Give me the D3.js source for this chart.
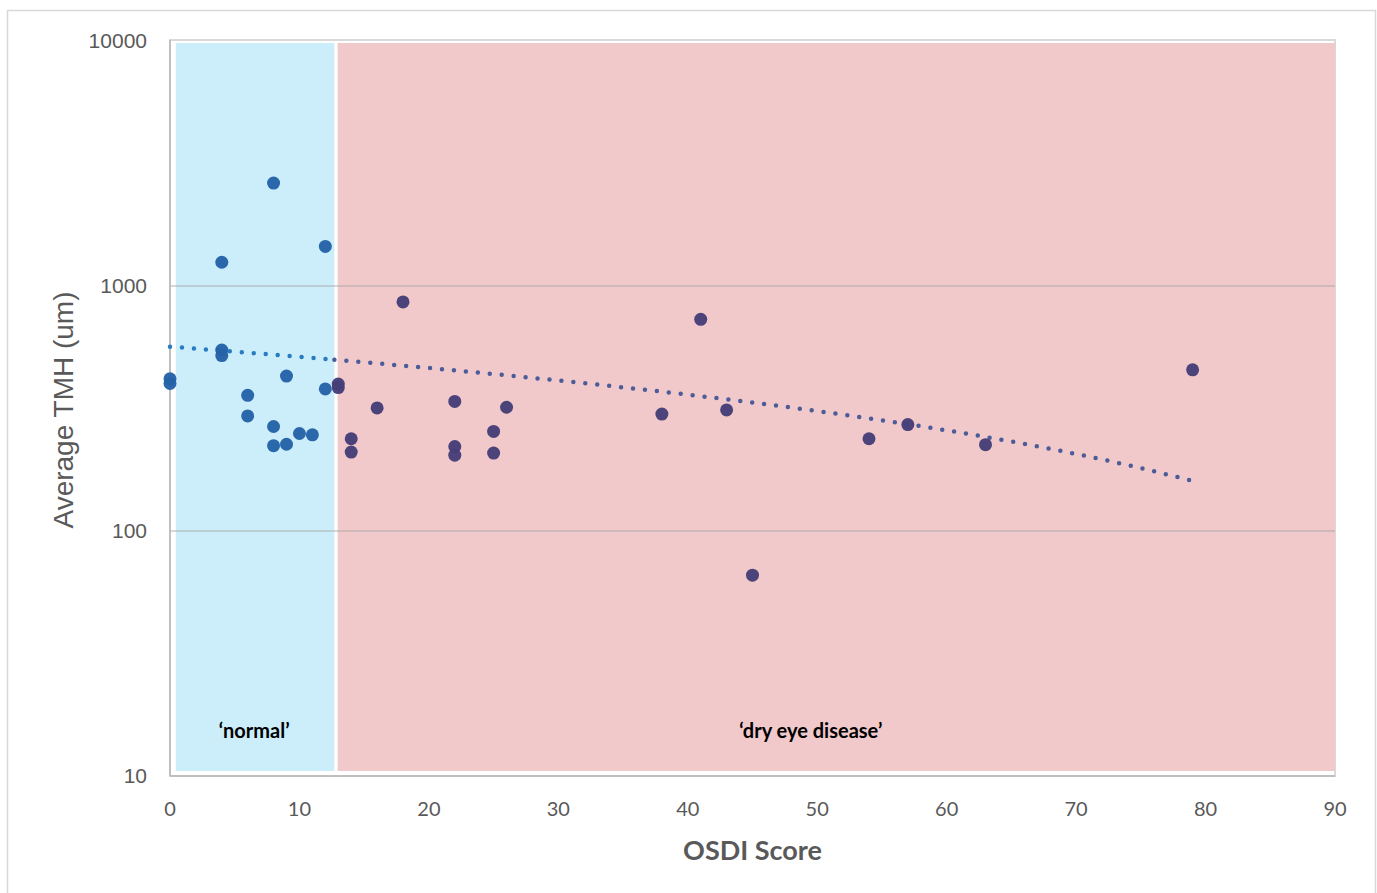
<!DOCTYPE html>
<html>
<head>
<meta charset="utf-8">
<script src="https://cdn.jsdelivr.net/npm/d3@7"></script>
<style>
  body { margin: 0; background: #fff; }
  svg { display: block; }
</style>
</head>
<body>
<div id="chart"></div>
<script>
// OSDI score vs average tear meniscus height
var osdi = [0, 0, 4, 8, 12, 4, 4, 6, 6, 9, 8, 8, 9, 10, 11, 12,
            13, 13, 18, 16, 14, 14, 22, 22, 22, 25, 25, 26, 41, 38, 43, 54, 57, 63, 79, 45];
var tmh  = [418, 400, 1250, 2630, 1450, 548, 520, 358, 295, 429, 267, 223, 226, 250, 247, 380,
            398, 385, 861, 318, 238, 210, 338, 221, 204, 255, 208, 320, 731, 300, 312, 238, 272, 225, 455, 66];

// shaded zones
var zoneNames = ["\u2018normal\u2019", "\u2018dry eye disease\u2019"];
var zoneStart = [0.45, 12.95];
var zoneEnd   = [12.7, 90];

var xTicks = [0, 10, 20, 30, 40, 50, 60, 70, 80, 90];
var yTicks = [10, 100, 1000, 10000];

function draw_chart() {
    var width = 1377, height = 893;
    var pLeft = 170, pRight = 1335, pTop = 41, pBottom = 776;

    var svg = d3.select("#chart").append("svg")
        .attr("width", width)
        .attr("height", height);

    // outer chart border
    svg.append("rect")
        .attr("x", 7.5).attr("y", 10.5)
        .attr("width", 1368).attr("height", 900)
        .style("fill", "#fff")
        .style("stroke", "#d9d9d9")
        .style("stroke-width", 1.5);

    var x = d3.scaleLinear().domain([0, 90]).range([pLeft, pRight]);
    var y = d3.scaleLog().domain([10, 10000]).range([pBottom, pTop]);

    var pts = osdi.map(function(d, i) { return {x: d, y: tmh[i]}; });
    var zones = zoneNames.map(function(d, i) { return {name: d, x0: zoneStart[i], x1: zoneEnd[i]}; });
    var boundary = zoneEnd[0];

    // plot frame (top/right light)
    svg.append("rect")
        .attr("x", pLeft).attr("y", pTop - 1)
        .attr("width", pRight - pLeft).attr("height", pBottom - pTop + 1)
        .style("fill", "none")
        .style("stroke", "#d9d9d9")
        .style("stroke-width", 2);

    // zones
    svg.selectAll(".zone")
        .data(zones)
        .enter().append("rect")
        .attr("class", "zone")
        .attr("x", function(d) { return x(d.x0); })
        .attr("width", function(d) { return x(d.x1) - x(d.x0); })
        .attr("y", pTop + 2)
        .attr("height", pBottom - 5 - (pTop + 2))
        .style("fill", function(d, i) { return i == 0 ? "#cbeefa" : "#f1c9ca"; });

    // gridlines
    svg.selectAll(".grid")
        .data([100, 1000])
        .enter().append("line")
        .attr("class", "grid")
        .attr("x1", pLeft).attr("x2", pRight)
        .attr("y1", function(d) { return y(d); })
        .attr("y2", function(d) { return y(d); })
        .style("stroke", "#a6a6a6")
        .style("stroke-opacity", 0.45)
        .style("stroke-width", 2);

    // axes lines
    svg.append("line")
        .attr("x1", pLeft).attr("x2", pRight)
        .attr("y1", pBottom).attr("y2", pBottom)
        .style("stroke", "#bfbfbf").style("stroke-width", 2);
    svg.append("line")
        .attr("x1", pLeft).attr("x2", pLeft)
        .attr("y1", pTop - 1).attr("y2", pBottom)
        .style("stroke", "#bfbfbf").style("stroke-width", 2);

    // zone labels
    svg.selectAll(".zlabel")
        .data(zones)
        .enter().append("text")
        .attr("class", "zlabel")
        .attr("x", function(d, i) { return i == 0 ? x(6.5) : x(49.5); })
        .attr("y", 738)
        .attr("text-anchor", "middle")
        .style("font-family", "Lato, 'Open Sans', sans-serif")
        .style("font-weight", "bold")
        .style("font-size", "20px")
        .style("fill", "#000")
        .text(function(d) { return d.name; });

    // linear least-squares trendline (shown curved on the log axis)
    var mx = d3.mean(pts, function(d) { return d.x; });
    var my = d3.mean(pts, function(d) { return d.y; });
    var sxy = d3.sum(pts, function(d) { return (d.x - mx) * (d.y - my); });
    var sxx = d3.sum(pts, function(d) { return (d.x - mx) * (d.x - mx); });
    var slope = sxy / sxx, icpt = my - slope * mx;
    var xMin = d3.min(osdi), xMax = d3.max(osdi);
    var fit = function(v) { return icpt + slope * v; };

    var line = d3.line()
        .x(function(d) { return x(d); })
        .y(function(d) { return y(fit(d)); });

    var segs = [
        {xs: d3.range(xMin, boundary, 0.25).concat([boundary]), c: "#2a7cc2"},
        {xs: d3.range(boundary, xMax, 0.25).concat([xMax]), c: "#4b5c98"}
    ];
    svg.selectAll(".trend")
        .data(segs)
        .enter().append("path")
        .attr("class", "trend")
        .attr("d", function(d) { return line(d.xs); })
        .style("fill", "none")
        .style("stroke", function(d) { return d.c; })
        .style("stroke-width", 4.5)
        .style("stroke-linecap", "round")
        .style("stroke-dasharray", "0 12");

    // points
    svg.selectAll(".dot")
        .data(pts)
        .enter().append("circle")
        .attr("class", "dot")
        .attr("r", 6.5)
        .attr("cx", function(d) { return x(d.x); })
        .attr("cy", function(d) { return y(d.y); })
        .style("fill", function(d) { return d.x < boundary ? "#2563a8" : "#463e78"; })
        .style("fill-opacity", 0.97);

    // x tick labels
    svg.selectAll(".xt")
        .data(xTicks)
        .enter().append("text")
        .attr("class", "xt")
        .attr("x", function(d) { return x(d); })
        .attr("y", 816)
        .attr("text-anchor", "middle")
        .style("font-family", "Lato, 'Open Sans', sans-serif")
        .style("font-size", "20px")
        .style("fill", "#595959")
        .text(function(d) { return d; });

    // y tick labels
    svg.selectAll(".yt")
        .data(yTicks)
        .enter().append("text")
        .attr("class", "yt")
        .attr("x", 147)
        .attr("y", function(d) { return y(d) + 7; })
        .attr("text-anchor", "end")
        .style("font-family", "'Liberation Sans', Arial, sans-serif")
        .style("font-size", "21px")
        .style("fill", "#595959")
        .text(function(d) { return d; });

    // axis titles
    svg.append("text")
        .attr("x", (pLeft + pRight) / 2)
        .attr("y", 860)
        .attr("text-anchor", "middle")
        .style("font-family", "Lato, 'Open Sans', sans-serif")
        .style("font-weight", "bold")
        .style("font-size", "27px")
        .style("fill", "#595959")
        .text("OSDI Score");

    svg.append("text")
        .attr("transform", "translate(73," + 410 + ") rotate(-90)")
        .attr("text-anchor", "middle")
        .style("font-family", "'Liberation Sans', Arial, sans-serif")
        .style("font-size", "28px")
        .style("fill", "#595959")
        .text("Average TMH (um)");
}

draw_chart();
</script>
</body>
</html>
